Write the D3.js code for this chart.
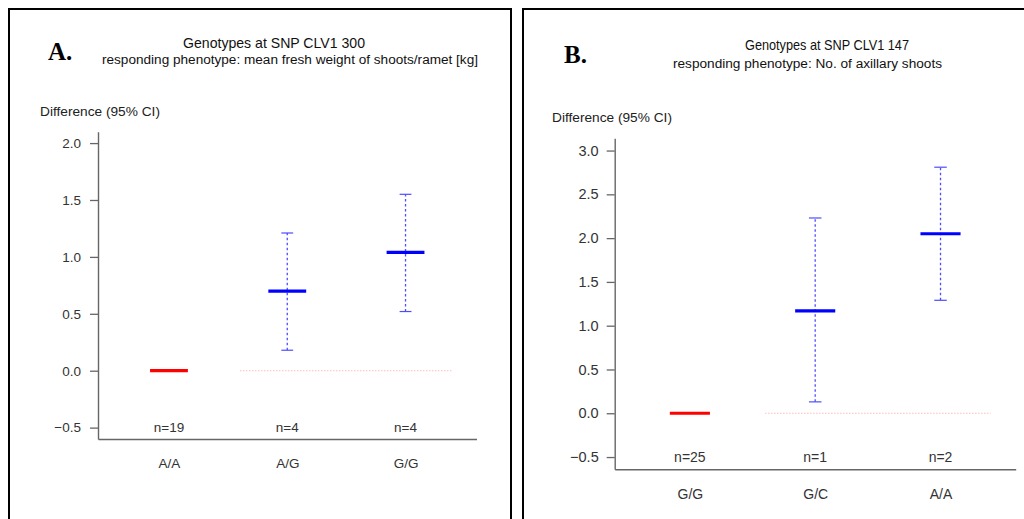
<!DOCTYPE html>
<html>
<head>
<meta charset="utf-8">
<script src="https://cdn.jsdelivr.net/npm/d3@7"></script>
<style>
  html, body { margin: 0; padding: 0; background: #fff; }
  svg { display: block; }
  text { font-family: "Liberation Sans", Arial, Helvetica, sans-serif; }
</style>
</head>
<body>
<svg id="chart" width="1024" height="519"></svg>
<script>
// ---------- DATA ----------
const aCategories = ["A/A", "A/G", "G/G"];
const aCounts = [19, 4, 4];
const aMeans = [0, 0.70, 1.04];
const aLower = [null, 0.18, 0.52];
const aUpper = [null, 1.21, 1.55];
const aTicks = [-0.5, 0.0, 0.5, 1.0, 1.5, 2.0];
const aTitle = "Genotypes at SNP CLV1 300";
const aSubtitle = "responding phenotype: mean fresh weight of shoots/ramet [kg]";

const bCategories = ["G/G", "G/C", "A/A"];
const bCounts = [25, 1, 2];
const bMeans = [0, 1.17, 2.05];
const bLower = [null, 0.13, 1.29];
const bUpper = [null, 2.23, 2.81];
const bTicks = [-0.5, 0.0, 0.5, 1.0, 1.5, 2.0, 2.5, 3.0];
const bTitle = "Genotypes at SNP CLV1 147";
const bSubtitle = "responding phenotype: No. of axillary shoots";

const yLabel = "Difference (95% CI)";

// ---------- DRAW ----------
const svg = d3.select("#chart");

function panel(cfg) {
  const g = svg.append("g");
  // frame
  g.append("path")
    .attr("d", `M${cfg.frame.x0},${cfg.frame.y1} V${cfg.frame.y0} H${cfg.frame.x1} V${cfg.frame.y1}`)
    .attr("fill", "none").attr("stroke", "#000").attr("stroke-width", 2);

  // letter
  g.append("text").attr("x", cfg.letter.x).attr("y", cfg.letter.y)
    .style("font-family", "'Liberation Serif', 'Times New Roman', serif")
    .attr("font-weight", "bold").attr("font-size", cfg.letter.size)
    .attr("fill", "#000").text(cfg.letter.text);

  // titles
  g.append("text").attr("x", cfg.title.x).attr("y", cfg.title.y)
    .attr("font-size", cfg.title.size).attr("fill", "#111")
    .attr("textLength", cfg.title.len).attr("lengthAdjust", "spacingAndGlyphs")
    .text(cfg.titleText);
  g.append("text").attr("x", cfg.sub.x).attr("y", cfg.sub.y)
    .attr("font-size", cfg.sub.size).attr("fill", "#111")
    .attr("textLength", cfg.sub.len).attr("lengthAdjust", "spacingAndGlyphs")
    .text(cfg.subText);

  // y label
  g.append("text").attr("x", cfg.ylab.x).attr("y", cfg.ylab.y)
    .attr("font-size", cfg.ylab.size).attr("fill", "#222").text(yLabel);

  const x = d3.scaleLinear().domain([0.4, 3.6]).range([cfg.plot.x0, cfg.plot.x1]);
  const pad = (cfg.ticks[cfg.ticks.length - 1] - cfg.ticks[0]) * 0.04;
  const y = d3.scaleLinear()
    .domain([cfg.ticks[0] - pad, cfg.ticks[cfg.ticks.length - 1] + pad])
    .range([cfg.plot.y1, cfg.plot.y0]);

  // y axis
  const ya = g.append("g").attr("transform", `translate(${cfg.plot.x0},0)`)
    .call(d3.axisLeft(y).tickValues(cfg.ticks).tickFormat(d3.format(".1f"))
      .tickSize(8).tickSizeOuter(0).tickPadding(cfg.tickPad));
  ya.select(".domain").attr("stroke", "#666").attr("stroke-width", 1.4);
  ya.selectAll(".tick line").attr("stroke", "#666").attr("stroke-width", 1.3);
  ya.selectAll(".tick text").attr("fill", "#333").attr("font-size", cfg.tickSize)
    .style("font-family", "'Liberation Sans', Arial, sans-serif");

  // x axis
  const xa = g.append("g").attr("transform", `translate(0,${cfg.plot.y1})`)
    .call(d3.axisBottom(x).tickValues([1, 2, 3])
      .tickFormat(i => cfg.categories[i - 1]).tickSize(0).tickSizeOuter(0).tickPadding(cfg.catPad));
  xa.select(".domain").attr("stroke", "#666").attr("stroke-width", 1.4);
  xa.selectAll(".tick text").attr("fill", "#333").attr("font-size", cfg.catSize)
    .style("font-family", "'Liberation Sans', Arial, sans-serif");

  // reference zero line
  g.append("line")
    .attr("x1", x(1.6)).attr("x2", x(3.4)).attr("y1", y(0)).attr("y2", y(0))
    .attr("stroke", "#ffbcbc").attr("stroke-width", 1).attr("stroke-dasharray", "1.5,1.5");

  const idx = [0, 1, 2];
  // CI whiskers
  const ci = idx.filter(i => cfg.lower[i] !== null);
  g.selectAll(".ci").data(ci).enter().append("line")
    .attr("x1", i => x(i + 1)).attr("x2", i => x(i + 1))
    .attr("y1", i => y(cfg.lower[i])).attr("y2", i => y(cfg.upper[i]))
    .attr("stroke", "#4d4dff").attr("stroke-width", 1.3).attr("stroke-dasharray", "2.5,2.5");
  g.selectAll(".capU").data(ci).enter().append("line")
    .attr("x1", i => x(i + 1 - 0.05)).attr("x2", i => x(i + 1 + 0.05))
    .attr("y1", i => y(cfg.upper[i])).attr("y2", i => y(cfg.upper[i]))
    .attr("stroke", "#4d4dff").attr("stroke-width", 1.2);
  g.selectAll(".capL").data(ci).enter().append("line")
    .attr("x1", i => x(i + 1 - 0.05)).attr("x2", i => x(i + 1 + 0.05))
    .attr("y1", i => y(cfg.lower[i])).attr("y2", i => y(cfg.lower[i]))
    .attr("stroke", "#4d4dff").attr("stroke-width", 1.2);

  // means
  g.selectAll(".mean").data(idx).enter().append("line")
    .attr("x1", i => x(i + 1 - 0.16)).attr("x2", i => x(i + 1 + 0.16))
    .attr("y1", i => y(cfg.means[i])).attr("y2", i => y(cfg.means[i]))
    .attr("stroke", i => i === 0 ? "#ff0000" : "#0000ff").attr("stroke-width", 3.2);

  // n labels
  g.selectAll(".nlab").data(idx).enter().append("text")
    .attr("x", i => x(i + 1)).attr("y", y(cfg.ticks[0]) + cfg.nSize * 0.36)
    .attr("text-anchor", "middle").attr("font-size", cfg.nSize).attr("fill", "#333")
    .text(i => "n=" + cfg.counts[i]);
}

panel({
  frame: { x0: 9, y0: 9, x1: 511, y1: 530 },
  letter: { x: 48, y: 60, size: 25, text: "A." },
  title: { x: 183, y: 48, size: 15, len: 182 },
  sub: { x: 102, y: 64, size: 12.5, len: 376 },
  titleText: aTitle, subText: aSubtitle,
  ylab: { x: 40, y: 116, size: 13.7 },
  plot: { x0: 98, x1: 476.5, y0: 131.7, y1: 439 },
  ticks: aTicks, categories: aCategories, counts: aCounts,
  means: aMeans, lower: aLower, upper: aUpper,
  tickSize: 13.5, tickPad: 9, catSize: 13.5, catPad: 19, nSize: 13.5
});

panel({
  frame: { x0: 523, y0: 9, x1: 1040, y1: 530 },
  letter: { x: 564, y: 63, size: 25, text: "B." },
  title: { x: 745, y: 50, size: 14.5, len: 164 },
  sub: { x: 673, y: 68, size: 12.5, len: 269 },
  titleText: bTitle, subText: bSubtitle,
  ylab: { x: 552, y: 122, size: 13.7 },
  plot: { x0: 614.7, x1: 1015.7, y0: 138.3, y1: 469.3 },
  ticks: bTicks, categories: bCategories, counts: bCounts,
  means: bMeans, lower: bLower, upper: bUpper,
  tickSize: 14.5, tickPad: 8, catSize: 14, catPad: 20, nSize: 14
});
</script>
</body>
</html>
